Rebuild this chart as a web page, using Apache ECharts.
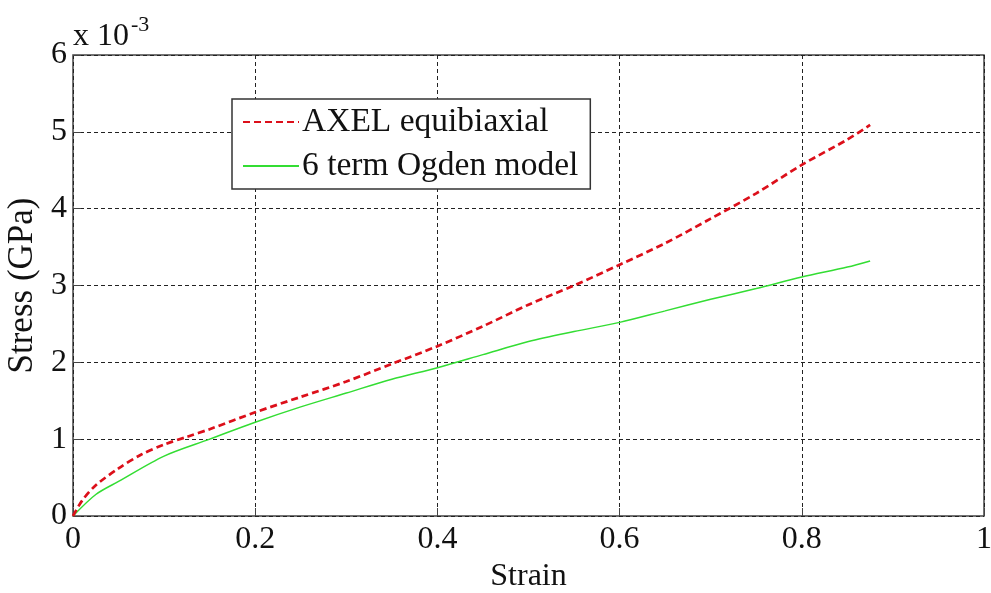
<!DOCTYPE html>
<html><head><meta charset="utf-8">
<script src="https://cdn.jsdelivr.net/npm/echarts@6/dist/echarts.min.js"></script>
<style>html,body{margin:0;padding:0;background:#fff}#c{width:991px;height:593px}</style>
</head><body><div id="c"></div>
<script>
const strainAxel = [0,0.01,0.025,0.05,0.075,0.1,0.125,0.15,0.2,0.25,0.3,0.35,0.4,0.45,0.5,0.55,0.6,0.65,0.7,0.75,0.8,0.85,0.875];
const stressAxel = [0,0.2,0.4,0.62,0.8,0.93,1.03,1.13,1.35,1.55,1.75,1.98,2.21,2.47,2.75,3.0,3.27,3.55,3.87,4.2,4.57,4.9,5.09];
const strainOgden = [0,0.025,0.05,0.1,0.15,0.2,0.25,0.3,0.35,0.4,0.45,0.5,0.55,0.6,0.65,0.7,0.75,0.8,0.85,0.875];
const stressOgden = [0,0.28,0.45,0.78,1.0,1.22,1.42,1.6,1.78,1.93,2.1,2.27,2.4,2.52,2.67,2.82,2.96,3.11,3.24,3.32];
const seriesNames = ['AXEL equibiaxial','6 term Ogden model'];
const font = 'Liberation Serif, Times New Roman, serif';
const chart = echarts.init(document.getElementById('c'));
const pair = (xs, ys) => xs.map((x,i)=>[x, ys[i]]);
chart.setOption({
  animation:false,
  textStyle:{fontFamily:font},
  grid:{left:73,right:7,top:55,bottom:77,show:true,borderColor:'#444',borderWidth:1.5,outerBoundsMode:'none',containLabel:false},
  xAxis:{type:'value',min:0,max:1,interval:0.2,name:'Strain',nameLocation:'middle',nameGap:40,
    nameTextStyle:{fontSize:32,color:'#111',fontFamily:font},
    axisLine:{show:false},axisTick:{inside:true,length:8,lineStyle:{color:'#444'}},
    axisLabel:{fontSize:32,color:'#111',margin:8,fontFamily:font,formatter:v=>String(+v.toFixed(1))},
    splitLine:{show:true,lineStyle:{color:'#222',type:[4,3],width:1}}},
  yAxis:{type:'value',min:0,max:6,interval:1,name:'Stress (GPa)',nameLocation:'middle',nameGap:29,
    nameTextStyle:{fontSize:35,color:'#111',fontFamily:font},
    axisLine:{show:false},axisTick:{inside:true,length:8,lineStyle:{color:'#444'}},
    axisLabel:{fontSize:32,color:'#111',margin:6,fontFamily:font},
    splitLine:{show:true,lineStyle:{color:'#222',type:[4,3],width:1}}},
  legend:{orient:'vertical',left:232,top:99,padding:[6,12,6,10],itemGap:10,
    backgroundColor:'#fff',borderColor:'#333',borderWidth:1.5,itemWidth:56,itemHeight:20,
    itemStyle:{opacity:0},
    textStyle:{fontSize:33.5,color:'#111',fontFamily:font,padding:[0,0,0,-2]},
    data:seriesNames},
  series:[
    {name:seriesNames[0],type:'line',data:pair(strainAxel,stressAxel),showSymbol:false,symbol:'none',smooth:0.3,
     lineStyle:{color:'#dc0f1a',width:2.7,type:[7,4]},itemStyle:{color:'#dc0f1a'},z:3},
    {name:seriesNames[1],type:'line',data:pair(strainOgden,stressOgden),showSymbol:false,symbol:'none',smooth:0.3,
     lineStyle:{color:'#33dd33',width:1.5},itemStyle:{color:'#33dd33'},z:2}
  ],
  graphic:[{type:'text',left:73,top:14,style:{
    text:'{a|x 10}{b|-3}',rich:{a:{fontSize:32,fontFamily:font,fill:'#111',verticalAlign:'bottom'},
    b:{fontSize:22,fontFamily:font,fill:'#111',verticalAlign:'top',padding:[0,0,17,2]}}}}]
});
</script></body></html>
